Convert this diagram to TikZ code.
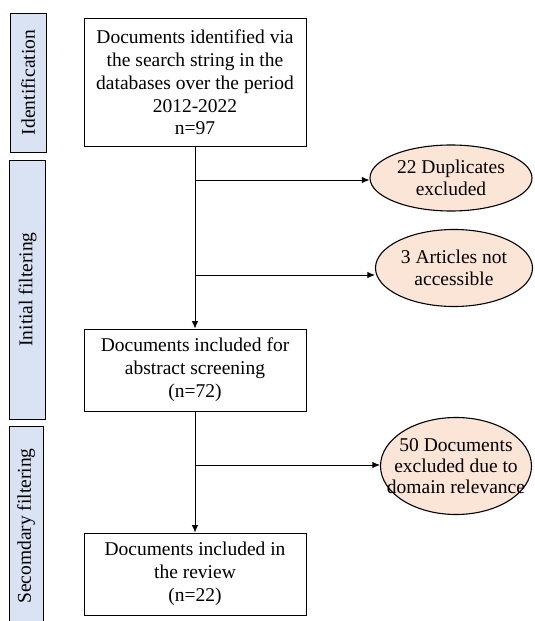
\documentclass[tikz,border=0pt]{standalone}
\usepackage{fontspec}
\setmainfont{Liberation Serif}
\usetikzlibrary{shapes.geometric,arrows.meta}
\definecolor{stageblue}{RGB}{218,227,243}
\definecolor{exclpeach}{RGB}{251,229,214}

\begin{document}
\begin{tikzpicture}[x=1pt,y=-1pt,line width=0.9pt,>={Latex[length=7.5pt,width=6.5pt]},->,
  font=\fontsize{19.5}{22.8}\selectfont]
  \tikzstyle{stage}=[draw,fill=stageblue,rotate=90,inner sep=0pt,minimum height=36pt]
  \tikzstyle{box}=[draw,fill=white,align=center,inner sep=0pt,minimum width=222pt]
  \tikzstyle{excl}=[draw,ellipse,fill=exclpeach,line width=1.1pt,inner sep=0pt]
  \useasboundingbox (0,0) rectangle (535,621);

  \node[stage,minimum width=139pt] (S_1) at (28,82.5) {Identification};
  \node[stage,minimum width=259pt] (S_2) at (27.5,289.5) {Initial filtering};
  \node[stage,minimum width=200pt,minimum height=34pt] (S_3) at (26,526) {Secomdary filtering};

  \node[box,minimum height=128pt] (B_1) at (195,82.5) {Documents identified via\\the search string in the\\databases over the period\\2012-2022\\n=97};
  \node[box,minimum height=82pt] (B_2) at (195,370) {Documents included for\\abstract screening\\(n=72)};
  \node[box,minimum height=82pt] (B_3) at (195,574) {Documents included in\\the review\\(n=22)};

  \node[excl,minimum width=162pt,minimum height=66pt] (E_1) at (451,178) {};
  \node[excl,minimum width=157pt,minimum height=77pt] (E_2) at (454,268) {};
  \node[excl,minimum width=151pt,minimum height=97pt] (E_3) at (456,466) {};
  \node[align=center,font=\fontsize{19.5}{22}\selectfont] (T_1) at (E_1) {22 Duplicates\\excluded};
  \node[align=center,font=\fontsize{19.5}{22}\selectfont] (T_2) at (E_2) {3 Articles not\\accessible};
  \node[align=center,font=\fontsize{19.5}{21}\selectfont] (T_3) at (E_3) {50 Documents\\excluded due to\\domain relevance};

  \coordinate (J_1) at (195,180);
  \coordinate (J_2) at (195,275);
  \coordinate (J_3) at (195,465);

  \draw (B_1) -- (B_2);
  \draw (B_2) -- (B_3);
  \draw (J_1) -- (J_1 -| E_1.west);
  \draw (J_2) -- (J_2 -| E_2.west);
  \draw (J_3) -- (J_3 -| E_3.west);
\end{tikzpicture}
\end{document}
